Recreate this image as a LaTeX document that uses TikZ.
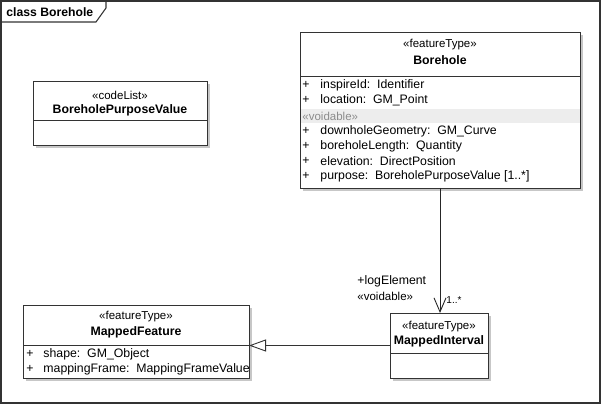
\documentclass[tikz,border=0pt]{standalone}
\usepackage{fontspec}
\setmainfont{Liberation Sans}
\usetikzlibrary{arrows.meta}
\begin{document}
\begin{tikzpicture}[x=1pt,y=-1pt,
  line width=0.9pt,
  umlbox/.style={draw=black!80, fill=white, inner sep=0pt, outer sep=0pt, anchor=north west},
  shadow/.style={fill=black!22, draw=none},
  txt/.style={inner sep=0pt, font=\fontsize{12.3}{14}\selectfont},
  ster/.style={inner sep=0pt, anchor=center, font=\fontsize{11.5}{13}\selectfont},
  cname/.style={inner sep=0pt, anchor=center, font=\fontsize{12.3}{14}\selectfont\bfseries},
  attr/.style={txt, anchor=west},
  sep/.style={draw=black!80, line width=0.9pt},
  gen/.style={draw=black!80, -{Triangle[open, length=17pt, width=12pt, fill=white]}},
  assoc/.style={draw=black!85, -{Straight Barb[length=14pt, width=12pt]}}
]
\useasboundingbox (0,0) rectangle (602,406);
% frame
\draw[black!80, line width=1.1pt] (1,1) rectangle (600,403);
\draw[black!80, line width=1.1pt] (1,22) -- (96,22) -- (106,8) -- (106,1);
\node[cname, anchor=west, font=\fontsize{12.2}{14}\selectfont\bfseries] (title) at (6,12) {class Borehole};

% ---------- BoreholePurposeValue
\fill[shadow] (36,84) rectangle (210,148);
\node[umlbox, minimum width=174pt, minimum height=64pt] (bpv) at (33,81) {};
\draw[sep] (33,120) -- (207,120);
\node[ster] (bpvs) at (120,95) {«codeList»};
\node[cname] (bpvn) at (120,110) {BoreholePurposeValue};

% ---------- Borehole
\fill[shadow] (303,35) rectangle (583,191);
\node[umlbox, minimum width=280pt, minimum height=156pt] (bh) at (300,32) {};
\draw[sep] (300,76) -- (580,76);
\fill[black!7] (300.5,109) rectangle (579.5,123);
\node[ster] (bhs) at (440,45) {«featureType»};
\node[cname] (bhn) at (440,60) {Borehole};
\foreach \y/\t [count=\i] in {85/{inspireId:\ \ Identifier},100/{location:\ \ GM\_Point},131/{downholeGeometry:\ \ GM\_Curve},146/{boreholeLength:\ \ Quantity},161/{elevation:\ \ DirectPosition},176/{purpose:\ \ BoreholePurposeValue [1..*]}}{
  \node[attr] (bhp\i) at (302,\y) {+};
  \node[attr] (bha\i) at (320,\y) {\t};
}
\node[attr, text=black!45, font=\fontsize{11.5}{13}\selectfont] (bhv) at (302,116) {«voidable»};

% ---------- MappedFeature
\fill[shadow] (26,308) rectangle (252,381);
\node[umlbox, minimum width=226pt, minimum height=73pt] (mf) at (23,305) {};
\draw[sep] (23,345) -- (249,345);
\node[ster] (mfs) at (136,317) {«featureType»};
\node[cname] (mfn) at (136,332) {MappedFeature};
\node[attr] (mfp1) at (26,354) {+};
\node[attr] (mfa1) at (43,354) {shape:\ \ GM\_Object};
\node[attr] (mfp2) at (26,369) {+};
\node[attr] (mfa2) at (43,369) {mappingFrame:\ \ MappingFrameValue};

% ---------- MappedInterval
\fill[shadow] (393,316) rectangle (491,381);
\node[umlbox, minimum width=98pt, minimum height=65pt] (mi) at (390,313) {};
\draw[sep] (390,353) -- (488,353);
\node[ster] (mis) at (439,327) {«featureType»};
\node[cname] (min) at (439,341) {MappedInterval};

% ---------- connectors
\draw[assoc] (bh.south) -- (bh.south |- mi.north);
\draw[gen] (mi.west) -- (mi.west -| mf.east);

\node[attr] (role) at (357,281) {+logElement};
\node[attr, font=\fontsize{11.5}{13}\selectfont] (rolev) at (357,296) {«voidable»};
\node[attr, font=\fontsize{10}{12}\selectfont] (mult) at (446,300) {1..*};
\end{tikzpicture}
\end{document}
